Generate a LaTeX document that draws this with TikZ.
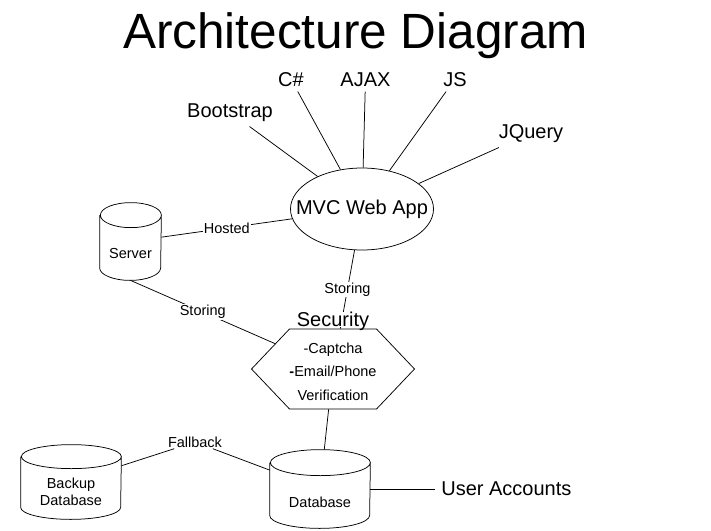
\documentclass[tikz,border=0pt]{standalone}
\usepackage{fontspec}
\setmainfont{Liberation Sans}
\usetikzlibrary{shapes.geometric,shapes.symbols}
\begin{document}
\begin{tikzpicture}[x=1pt,y=-1pt,line width=0.75pt,
        store/.style={inner sep=0pt},
        storetext/.style={align=center, inner sep=0pt, font=\fontsize{14.5}{17}\selectfont},
        tech/.style={anchor=base, inner sep=5pt, font=\fontsize{20}{24}\selectfont},
        edgelabel/.style={fill=white, inner sep=1pt, font=\fontsize{14.5}{17}\selectfont}]
        \useasboundingbox (0,0) rectangle (711,530);

        \node[anchor=base, inner sep=0pt, font=\fontsize{49.5}{56}\selectfont] (title) at (355.5, 48) {Architecture Diagram};

        \node[ellipse, draw, inner xsep=-20pt, inner ysep=0pt, minimum width=143pt, minimum height=82pt, font=\fontsize{20}{24}\selectfont] (mvc) at (362, 209) {MVC Web App};
        \node[tech] (boot) at (230, 117) {Bootstrap};
        \node[tech] (csharp) at (291, 86) {C\#};
        \node[tech] (ajax) at (365.5, 86) {AJAX};
        \node[tech] (js) at (455, 86) {JS};
        \node[tech] (jquery) at (531, 138) {JQuery};

        \node[store, minimum width=61pt, minimum height=77pt, label={[storetext, yshift=-12.5pt]center:Server}] (server) at (130.5, 241.5) {};
        \node[signal, signal to=west and east, signal pointer angle=93, draw, align=center, inner sep=0pt,
              minimum width=150pt, minimum height=80pt, font=\fontsize{14.5}{23.5}\selectfont] (sec) at (333, 369) {\rule{0pt}{16pt}-Captcha\\\textbf{-}Email/Phone\\Verification};
        \node[store, minimum width=100pt, minimum height=78pt, label={[storetext, yshift=-13pt]center:Database}] (db) at (320, 489) {};
        \node[store, minimum width=100pt, minimum height=74pt, label={[storetext, yshift=-10pt]center:Backup\\Database}] (backup) at (71, 482) {};
        \node[edgelabel] (fallback) at (195, 442) {Fallback};
        \node[anchor=west, inner sep=6pt, font=\fontsize{20}{24}\selectfont] (accounts) at (435, 489) {User Accounts};

        \foreach \n/\w/\r in {server/30.5/12.5, db/50/13, backup/50/12}
            \draw ([yshift=-\r pt]\n.north west) -- ([yshift=\r pt]\n.south west)
                arc[start angle=180, end angle=360, x radius=\w pt, y radius=\r pt]
                -- ([yshift=-\r pt]\n.north east)
                arc[start angle=0, end angle=180, x radius=\w pt, y radius=\r pt]
                arc[start angle=180, end angle=360, x radius=\w pt, y radius=\r pt];

        \draw (boot) -- (mvc);
        \draw (csharp) -- (mvc);
        \draw (ajax) -- (mvc);
        \draw (js) -- (mvc);
        \draw (jquery) -- (mvc);
        \draw (server) -- node[edgelabel] {Hosted} (mvc);
        \draw (server.south) -- node[edgelabel] {Storing} (sec);
        \draw (mvc) -- node[edgelabel] {Storing} (sec);
        \draw (sec) -- (db);
        \draw (backup) -- (fallback) -- (db);
        \draw (db) -- (accounts);

        \node[anchor=base, inner sep=0pt, text depth=0pt, fill=white, font=\fontsize{20}{24}\selectfont] (seclabel) at ([yshift=2pt]sec.north) {Security};

    \end{tikzpicture}
\end{document}
